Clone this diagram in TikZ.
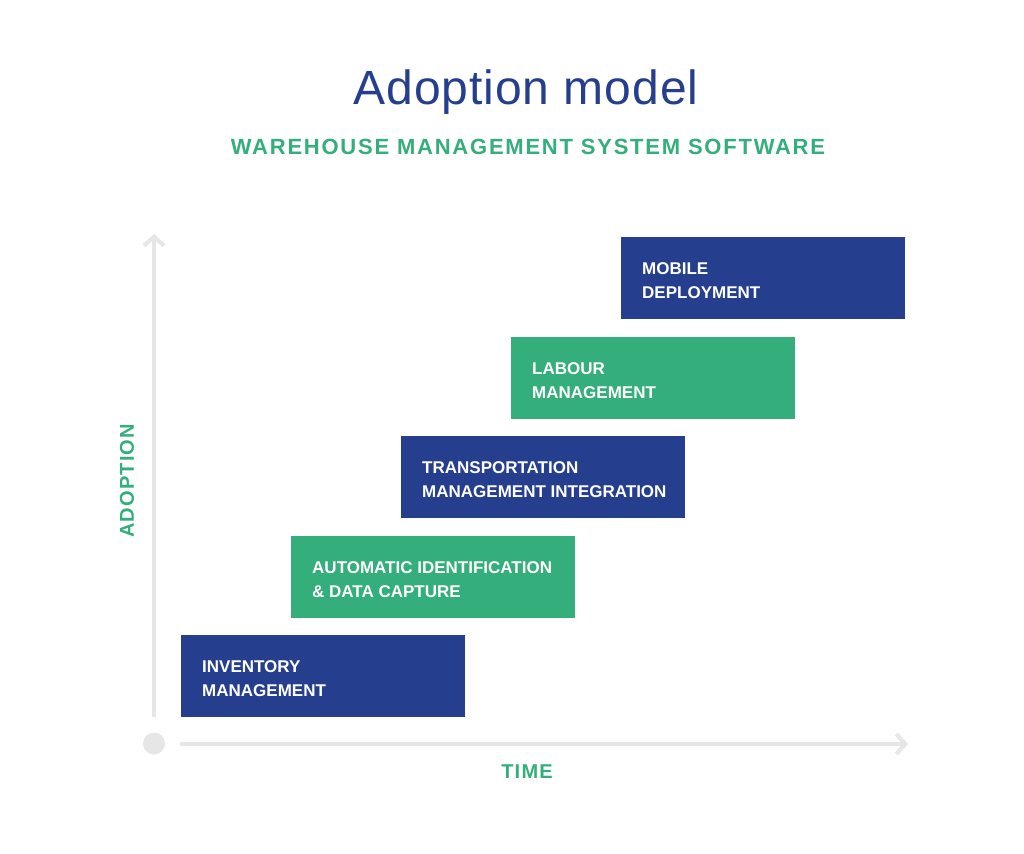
\documentclass[tikz,border=0pt]{standalone}
\usepackage{fontspec}
\setmainfont{Liberation Sans}
\newfontfamily\subbold[LetterSpace=8]{Liberation Sans Bold}
\newfontfamily\axisbold[LetterSpace=6]{Liberation Sans Bold}
\newfontfamily\titlefont[LetterSpace=2]{Liberation Sans}
\usetikzlibrary{arrows.meta}
\definecolor{wmsblue}{RGB}{37,63,142}
\definecolor{wmsgreen}{RGB}{52,174,122}
\definecolor{axisgray}{RGB}{230,230,230}
\tikzset{
  stage/.style={minimum width=284pt, minimum height=82pt, inner sep=0pt, anchor=north west},
  stagetext/.style={text=white, font=\fontsize{17}{24}\selectfont\bfseries, align=left, anchor=west, inner sep=0pt},
  axis/.style={draw=axisgray, line width=4pt, -{Straight Barb[length=9pt,width=20pt,line width=4pt]}},
  axislabel/.style={text=wmsgreen, font=\fontsize{20}{22}\axisbold},
}
\begin{document}
\begin{tikzpicture}[x=1pt,y=-1pt]
\useasboundingbox[fill=white] (0,0) rectangle (1024,853);
% title
\node[text=wmsblue, font=\fontsize{48}{52}\titlefont, anchor=base] (title) at (526,105) {Adoption model};
\node[text=wmsgreen, font=\fontsize{22}{24}\subbold, anchor=base] (subtitle) at (528,155) {WAREHOUSE MANAGEMENT SYSTEM SOFTWARE};
% axes
\coordinate (ybot) at (154,717);
\coordinate (ytop) at (154,234);
\coordinate (xleft) at (180,744);
\coordinate (xright) at (908,744);
\draw[axis] (ybot) -- (ytop);
\draw[axis] (xleft) -- (xright);
\fill[axisgray] (154,743.5) circle (11pt);
\node[axislabel, rotate=90] (ylab) at (127,481) {ADOPTION};
\node[axislabel] (xlab) at (527,771.5) {TIME};
% stages
\node[stage, fill=wmsblue] (s1) at (181,635) {};
\node[stage, fill=wmsgreen] (s2) at (291,535.5) {};
\node[stage, fill=wmsblue] (s3) at (401,436) {};
\node[stage, fill=wmsgreen] (s4) at (511,336.5) {};
\node[stage, fill=wmsblue] (s5) at (621,237) {};
\node[stagetext] at ([xshift=21pt,yshift=-2.5pt]s1.west) {INVENTORY\\MANAGEMENT};
\node[stagetext] at ([xshift=21pt,yshift=-2.5pt]s2.west) {AUTOMATIC IDENTIFICATION\\\& DATA CAPTURE};
\node[stagetext] at ([xshift=21pt,yshift=-2.5pt]s3.west) {TRANSPORTATION\\MANAGEMENT INTEGRATION};
\node[stagetext] at ([xshift=21pt,yshift=-2.5pt]s4.west) {LABOUR\\MANAGEMENT};
\node[stagetext] at ([xshift=21pt,yshift=-2.5pt]s5.west) {MOBILE\\DEPLOYMENT};
\end{tikzpicture}
\end{document}
